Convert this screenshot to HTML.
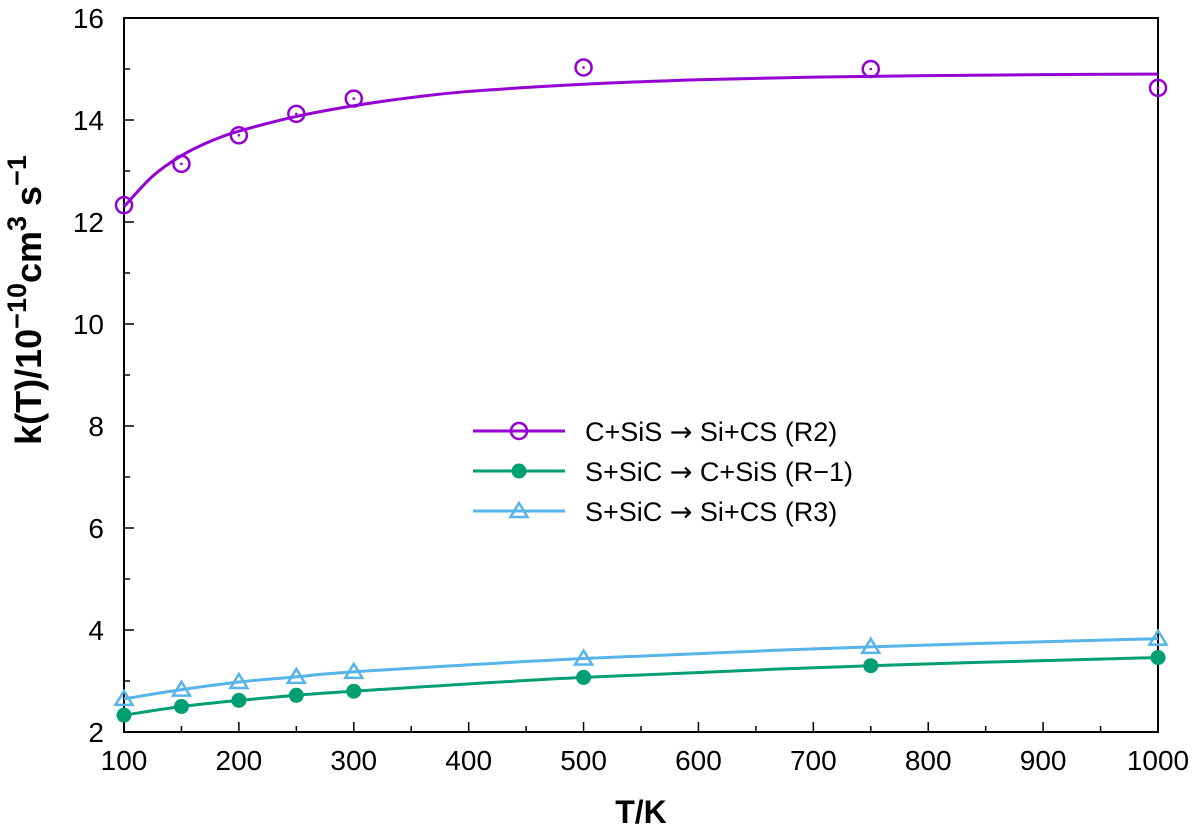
<!DOCTYPE html>
<html><head><meta charset="utf-8"><style>
body{margin:0;background:#fff}
svg text{font-family:"Liberation Sans",sans-serif}
</style></head><body>
<svg id="chart" width="1200" height="835" xmlns="http://www.w3.org/2000/svg"></svg>
<script>
const xTicks=[100,200,300,400,500,600,700,800,900,1000];
const yTicks=[2,4,6,8,10,12,14,16];
const tempsPts=[100,150,200,250,300,500,750,1000];
const r2Pts=[12.33,13.14,13.7,14.12,14.42,15.03,15.0,14.63];
const r2FitT=[100,125,150,175,200,250,300,350,400,500,600,700,800,900,1000];
const r2Fit=[12.3,12.9,13.3,13.58,13.78,14.07,14.28,14.44,14.56,14.7,14.79,14.84,14.87,14.89,14.9];
const rm1Pts=[2.33,2.5,2.62,2.72,2.8,3.07,3.3,3.46];
const r3Pts=[2.65,2.83,2.98,3.08,3.18,3.44,3.67,3.83];
const legendParts=[["C+SiS ","Si+CS (R2)"],["S+SiC ","C+SiS (R\u22121)"],["S+SiC ","Si+CS (R3)"]];
const colors=["#9400d3","#009e73","#56b4e9"];

const svg=document.getElementById('chart');
const NS="http://www.w3.org/2000/svg";
const L=124,R=1158,T=18,B=732;
const xs=v=>L+(v-100)/900*(R-L);
const ys=v=>B-(v-2)/14*(B-T);
function mk(tag,attrs,parent){const e=document.createElementNS(NS,tag);for(const k in attrs)e.setAttribute(k,attrs[k]);(parent||svg).appendChild(e);return e;}

const frame=mk('rect',{x:L,y:T,width:R-L,height:B-T,fill:'none',stroke:'#000','stroke-width':2});



for(let v=100;v<=1000;v+=50){const major=v%100===0;const t=mk('line',{x1:xs(v),x2:xs(v),y1:B,y2:B-(major?10:6),stroke:'#000','stroke-width':1.5});

}
for(let v=2;v<=16;v+=1){const major=v%2===0;const t=mk('line',{x1:L,x2:L+(major?10:6),y1:ys(v),y2:ys(v),stroke:'#000','stroke-width':1.5});

}
xTicks.forEach(v=>{const t=mk('text',{x:xs(v),y:B+38,'text-anchor':'middle','font-size':28});t.textContent=v;

});
yTicks.forEach(v=>{const t=mk('text',{x:L-20,y:ys(v)+10,'text-anchor':'end','font-size':28});t.textContent=v;

});

const xt=mk('text',{x:641,y:823,'text-anchor':'middle','font-size':32,'font-weight':'bold'});xt.textContent='T/K';


const yt=mk('text',{transform:'translate(41,300) rotate(-90)','text-anchor':'middle','font-size':36,'font-weight':'bold'});
yt.innerHTML='k(T)/10<tspan dy="-15" font-size="27">\u221210</tspan><tspan dy="15">cm</tspan><tspan dy="-15" font-size="27">3</tspan><tspan dy="15"> s</tspan><tspan dy="-15" font-size="27">\u22121</tspan>';



function smooth(xa,ya){const p=xa.map((x,i)=>[xs(x),ys(ya[i])]);let d=`M${p[0][0]},${p[0][1]}`;
for(let i=0;i<p.length-1;i++){const p0=p[i-1]||p[i],p1=p[i],p2=p[i+1],p3=p[i+2]||p2;
d+=` C${p1[0]+(p2[0]-p0[0])/6},${p1[1]+(p2[1]-p0[1])/6} ${p2[0]-(p3[0]-p1[0])/6},${p2[1]-(p3[1]-p1[1])/6} ${p2[0]},${p2[1]}`;}return d;}

function marker(kind,x,y,c,parent){
 if(kind===0){mk('circle',{cx:x,cy:y,r:8,fill:'none',stroke:c,'stroke-width':2.5},parent);mk('circle',{cx:x,cy:y,r:1.3,fill:c},parent);}
 else if(kind===1){mk('circle',{cx:x,cy:y,r:7.5,fill:c},parent);}
 else {mk('polygon',{points:`${x},${y-8} ${x+8.5},${y+6} ${x-8.5},${y+6}`,fill:'none',stroke:c,'stroke-width':2.5},parent);}
}
const series=[[r2FitT,r2Fit,r2Pts],[tempsPts,rm1Pts,rm1Pts],[tempsPts,r3Pts,r3Pts]];
const names=['r2','r-1','r3'];
series.forEach((s,k)=>{
 const g=mk('g',{});
 
 
 mk('path',{d:smooth(s[0],s[1]),fill:'none',stroke:colors[k],'stroke-width':3},g);
 tempsPts.forEach((t,i)=>marker(k,xs(t),ys(s[2][i]),colors[k],g));
});

const lg=mk('g',{});


legendParts.forEach((lab,k)=>{const y=431+k*40;
 const e=mk('g',{},lg);
 
 
 mk('line',{x1:473,x2:565,y1:y,y2:y,stroke:colors[k],'stroke-width':3},e);
 marker(k,519,y,colors[k],e);
 const t=mk('text',{x:585,y:y+10,'font-size':27},e);
 t.innerHTML=lab[0]+'<tspan font-family="DejaVu Sans">\u2192</tspan> '+lab[1];
});
</script>
</body></html>
